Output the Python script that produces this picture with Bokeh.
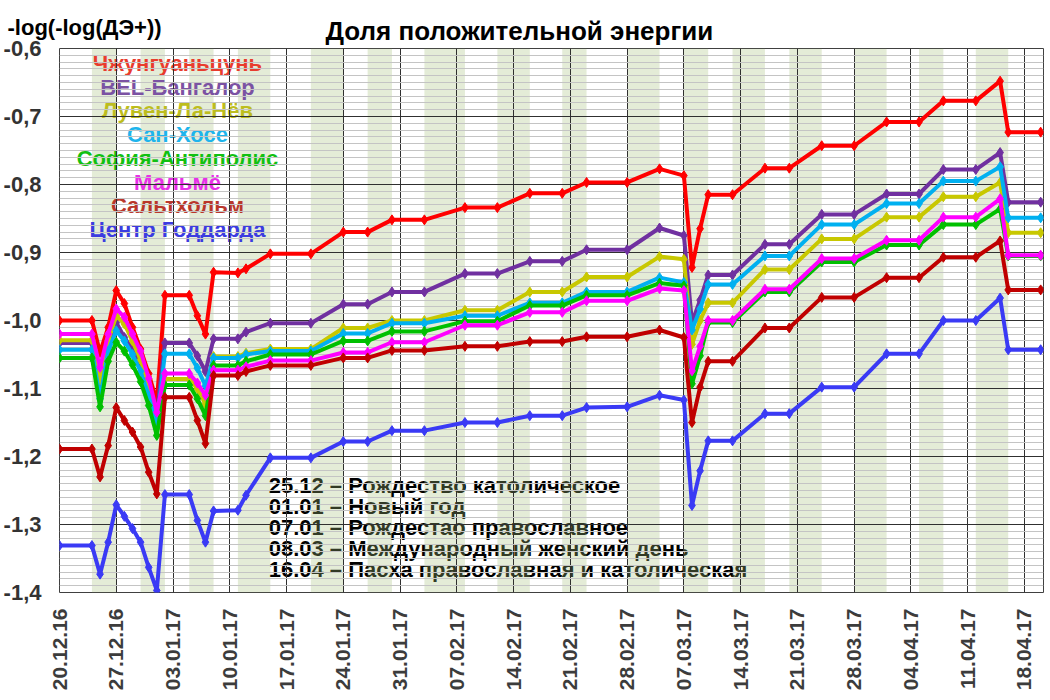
import pandas as pd
from datetime import timedelta
from bokeh.plotting import figure
from bokeh.models import FixedTicker, CustomJSTickFormatter, DatetimeTickFormatter, Range1d, Title, ColumnDataSource
from bokeh.core.properties import value
from bokeh.embed import file_html
from bokeh.resources import INLINE
from math import pi

dates = ["2016-12-20", "2016-12-24", "2016-12-25", "2016-12-26", "2016-12-27", "2016-12-28",
         "2016-12-29", "2016-12-30", "2016-12-31", "2017-01-01", "2017-01-02", "2017-01-05",
         "2017-01-06", "2017-01-07", "2017-01-08", "2017-01-11", "2017-01-12", "2017-01-15",
         "2017-01-20", "2017-01-24", "2017-01-27", "2017-01-30", "2017-02-03", "2017-02-08",
         "2017-02-12", "2017-02-16", "2017-02-20", "2017-02-23", "2017-02-28", "2017-03-04",
         "2017-03-07", "2017-03-08", "2017-03-09", "2017-03-10", "2017-03-13", "2017-03-17",
         "2017-03-20", "2017-03-24", "2017-03-28", "2017-04-01", "2017-04-05", "2017-04-08",
         "2017-04-12", "2017-04-15", "2017-04-16", "2017-04-20"]

zhongguancun = [-1.000, -1.000, -1.047, -1.010, -0.956, -0.975, -1.010, -1.042, -1.078, -1.120,
                -0.963, -0.963, -0.993, -1.020, -0.929, -0.930, -0.924, -0.902, -0.902, -0.870,
                -0.870, -0.852, -0.852, -0.834, -0.834, -0.813, -0.813, -0.797, -0.797, -0.777,
                -0.787, -0.922, -0.865, -0.815, -0.815, -0.776, -0.776, -0.743, -0.743, -0.708,
                -0.708, -0.677, -0.677, -0.648, -0.723, -0.723]
bangalore = [-1.033, -1.033, -1.100, -1.047, -1.003, -1.025, -1.042, -1.064, -1.098, -1.137,
             -1.033, -1.033, -1.052, -1.075, -1.027, -1.027, -1.017, -1.004, -1.004, -0.976,
             -0.976, -0.958, -0.958, -0.931, -0.931, -0.913, -0.913, -0.896, -0.896, -0.864,
             -0.875, -1.003, -0.970, -0.933, -0.933, -0.888, -0.888, -0.844, -0.844, -0.814,
             -0.814, -0.778, -0.778, -0.753, -0.826, -0.826]
louvain = [-1.029, -1.029, -1.088, -1.030, -0.993, -1.005, -1.030, -1.058, -1.095, -1.142,
           -1.086, -1.086, -1.100, -1.123, -1.053, -1.053, -1.048, -1.042, -1.042, -1.011,
           -1.011, -1.000, -1.000, -0.985, -0.985, -0.958, -0.958, -0.936, -0.936, -0.906,
           -0.910, -1.035, -1.000, -0.974, -0.974, -0.925, -0.925, -0.880, -0.880, -0.848,
           -0.848, -0.818, -0.818, -0.797, -0.871, -0.871]
sanjose = [-1.043, -1.043, -1.115, -1.045, -1.015, -1.030, -1.050, -1.075, -1.110, -1.152,
           -1.049, -1.049, -1.070, -1.096, -1.055, -1.055, -1.050, -1.045, -1.045, -1.019,
           -1.019, -1.004, -1.004, -0.993, -0.993, -0.974, -0.974, -0.958, -0.958, -0.937,
           -0.944, -1.014, -0.983, -0.947, -0.947, -0.905, -0.905, -0.859, -0.859, -0.828,
           -0.828, -0.795, -0.795, -0.774, -0.849, -0.849]
sophia = [-1.055, -1.055, -1.127, -1.060, -1.032, -1.045, -1.065, -1.090, -1.125, -1.169,
          -1.095, -1.095, -1.115, -1.140, -1.066, -1.066, -1.060, -1.050, -1.050, -1.030,
          -1.030, -1.016, -1.016, -1.001, -1.001, -0.978, -0.978, -0.963, -0.963, -0.945,
          -0.949, -1.093, -1.052, -1.003, -1.003, -0.958, -0.958, -0.914, -0.914, -0.889,
          -0.889, -0.859, -0.859, -0.836, -0.905, -0.905]
malmo = [-1.020, -1.020, -1.069, -1.020, -0.983, -0.995, -1.020, -1.045, -1.085, -1.135,
         -1.078, -1.078, -1.092, -1.110, -1.073, -1.073, -1.068, -1.059, -1.059, -1.047,
         -1.047, -1.032, -1.032, -1.007, -1.007, -0.988, -0.988, -0.971, -0.971, -0.953,
         -0.956, -1.074, -1.038, -1.000, -1.000, -0.954, -0.954, -0.909, -0.909, -0.882,
         -0.882, -0.848, -0.848, -0.821, -0.904, -0.904]
saltholm = [-1.189, -1.189, -1.230, -1.184, -1.128, -1.147, -1.164, -1.186, -1.223, -1.255,
            -1.113, -1.113, -1.147, -1.181, -1.081, -1.081, -1.075, -1.066, -1.066, -1.055,
            -1.055, -1.044, -1.044, -1.038, -1.038, -1.031, -1.031, -1.024, -1.024, -1.014,
            -1.025, -1.150, -1.098, -1.060, -1.060, -1.011, -1.011, -0.966, -0.966, -0.937,
            -0.937, -0.907, -0.907, -0.883, -0.955, -0.955]
goddard = [-1.331, -1.331, -1.373, -1.326, -1.271, -1.288, -1.306, -1.326, -1.363, -1.397,
           -1.256, -1.256, -1.294, -1.326, -1.280, -1.279, -1.257, -1.202, -1.202, -1.178,
           -1.178, -1.162, -1.162, -1.150, -1.150, -1.140, -1.140, -1.128, -1.127, -1.110,
           -1.117, -1.272, -1.221, -1.177, -1.177, -1.137, -1.137, -1.098, -1.098, -1.049,
           -1.049, -1.000, -1.000, -0.967, -1.043, -1.043]

series_names = ["Чжунгуаньцунь", "BEL-Бангалор", "Лувен-Ла-Нёв", "Сан-Хосе",
                "София-Антиполис", "Мальмё", "Сальтхольм", "Центр Годдарда"]
line_colors = ["#FF0000", "#7030A0", "#C8C800", "#00B0F0", "#00C000", "#FF00FF", "#C00000", "#3A3AF5"]
text_colors = ["#E83C2E", "#7B52A3", "#BDBD1E", "#1EB4EC", "#12C012", "#E830E8", "#B9372B", "#3C3CE0"]

band_start = ["2016-12-24", "2016-12-30", "2017-01-05", "2017-01-11", "2017-01-20", "2017-01-27",
              "2017-02-03", "2017-02-12", "2017-02-20", "2017-02-28", "2017-03-07", "2017-03-13",
              "2017-03-20", "2017-03-28", "2017-04-05", "2017-04-12"]
band_end = ["2016-12-27", "2017-01-02", "2017-01-08", "2017-01-15", "2017-01-24", "2017-01-30",
            "2017-02-08", "2017-02-16", "2017-02-23", "2017-03-04", "2017-03-10", "2017-03-17",
            "2017-03-24", "2017-04-01", "2017-04-08", "2017-04-16"]

tick_dates = ["2016-12-20", "2016-12-27", "2017-01-03", "2017-01-10", "2017-01-17", "2017-01-24",
              "2017-01-31", "2017-02-07", "2017-02-14", "2017-02-21", "2017-02-28", "2017-03-07",
              "2017-03-14", "2017-03-21", "2017-03-28", "2017-04-04", "2017-04-11", "2017-04-18"]
y_ticks = [-1.4, -1.3, -1.2, -1.1, -1.0, -0.9, -0.8, -0.7, -0.6]
y_minor = [round(-1.4 + 0.01 * i, 2) for i in range(81)]

notes = ["25.12 – Рождество католическое", "01.01 – Новый год", "07.01 – Рождестао православное",
         "08.03 – Международный женский день", "16.04 – Пасха православная и католическая"]

title_text = "Доля положительной энергии"
ylabel_text = "-log(-log(ДЭ+))"

FONT = "Liberation Sans"

x = pd.to_datetime(dates)
t0 = pd.Timestamp("2016-12-20")
x_end = t0 + timedelta(days=121.35)

p = figure(width=1050, height=700, x_axis_type="datetime",
           x_range=Range1d(t0, x_end), y_range=Range1d(-1.4, -0.6),
           min_border_left=58, min_border_right=7, min_border_top=48, min_border_bottom=108,
           output_backend="svg", toolbar_location=None)

p.background_fill_color = "white"
p.border_fill_color = "white"
p.outline_line_color = "#404040"
p.outline_line_width = 1

# outer header row: the y-axis caption (pulled down onto the title's row)
p.title.text = "\u00a0\n" + ylabel_text
p.title.align = "left"
p.title.offset = -52
p.title.text_font = FONT
p.title.text_font_style = "bold"
p.title.text_font_size = "22px"
p.title.text_color = "black"
p.title.standoff = -53

# inner header row: the chart title
main_title = Title(text=title_text, align="left", vertical_align="middle", offset=266, standoff=3,
                   text_font=FONT, text_font_style="bold", text_font_size="26px", text_color="black")
p.add_layout(main_title, "above")

# axes
tick_ms = [pd.Timestamp(d).value // 10**6 for d in tick_dates]
xt = FixedTicker(ticks=tick_ms)
p.xaxis.ticker = xt
p.xaxis.formatter = DatetimeTickFormatter(days="%d.%m.%y", months="%d.%m.%y", hours="%d.%m.%y",
                                          years="%d.%m.%y")
p.xaxis.major_label_orientation = pi / 2
p.xaxis.major_label_text_font = FONT
p.xaxis.major_label_text_font_style = "bold"
p.xaxis.major_label_text_font_size = "21px"
p.xaxis.major_label_text_color = "#3C3C3C"
p.xaxis.major_label_standoff = 16

yt = FixedTicker(ticks=y_ticks, minor_ticks=y_minor)
p.yaxis.ticker = yt
p.yaxis.formatter = CustomJSTickFormatter(code="return tick.toFixed(1).replace('.', ',');")
p.yaxis.major_label_text_font = FONT
p.yaxis.major_label_text_font_style = "bold"
p.yaxis.major_label_text_font_size = "22px"
p.yaxis.major_label_text_color = "#333333"
p.yaxis.major_label_standoff = 18

for ax in (p.xaxis[0], p.yaxis[0]):
    ax.axis_line_color = None
    ax.major_tick_line_color = None
    ax.minor_tick_line_color = None
    ax.major_tick_out = 0
    ax.major_tick_in = 0
    ax.minor_tick_out = 0
    ax.minor_tick_in = 0

p.xgrid.ticker = xt
p.xgrid.grid_line_color = "#303030"
p.xgrid.grid_line_width = 1
p.ygrid.ticker = yt
p.ygrid.grid_line_color = "#303030"
p.ygrid.grid_line_width = 1
p.ygrid.minor_grid_line_color = "#C4C4C4"
p.ygrid.minor_grid_line_width = 1

# notes text, lying under the shaded bands
note_x = t0 + timedelta(days=25.8)
note_y0, note_step = -1.2426, 0.031
p.text(x=[note_x] * len(notes), y=[note_y0 - i * note_step for i in range(len(notes))],
       text=notes, text_color="black", text_align="left", text_baseline="middle",
       text_font=value(FONT), text_font_style="bold", text_font_size="22px", level="image")

# shaded bands
p.quad(left=pd.to_datetime(band_start), right=pd.to_datetime(band_end),
       bottom=p.y_range.start, top=p.y_range.end,
       fill_color="#A5BF7C", fill_alpha=0.3, line_color=None, level="image")

# series names as coloured texts
leg_x = t0 + timedelta(days=14.55)
leg_y0, leg_step = -0.622, 0.0349
p.text(x=[leg_x] * len(series_names), y=[leg_y0 - i * leg_step for i in range(len(series_names))],
       text=series_names, text_color=text_colors, text_align="center", text_baseline="middle",
       text_font=value(FONT), text_font_style="bold", text_font_size="22px", level="image")

all_series = [zhongguancun, bangalore, louvain, sanjose, sophia, malmo, saltholm, goddard]
for vals, col in zip(all_series, line_colors):
    src = ColumnDataSource(dict(x=x, y=vals))
    p.line("x", "y", source=src, line_color=col, line_width=4)
    p.scatter("x", "y", source=src, marker="diamond", size=10, fill_color=col, line_color=col)

open("out.html", "w").write(file_html(p, INLINE))
